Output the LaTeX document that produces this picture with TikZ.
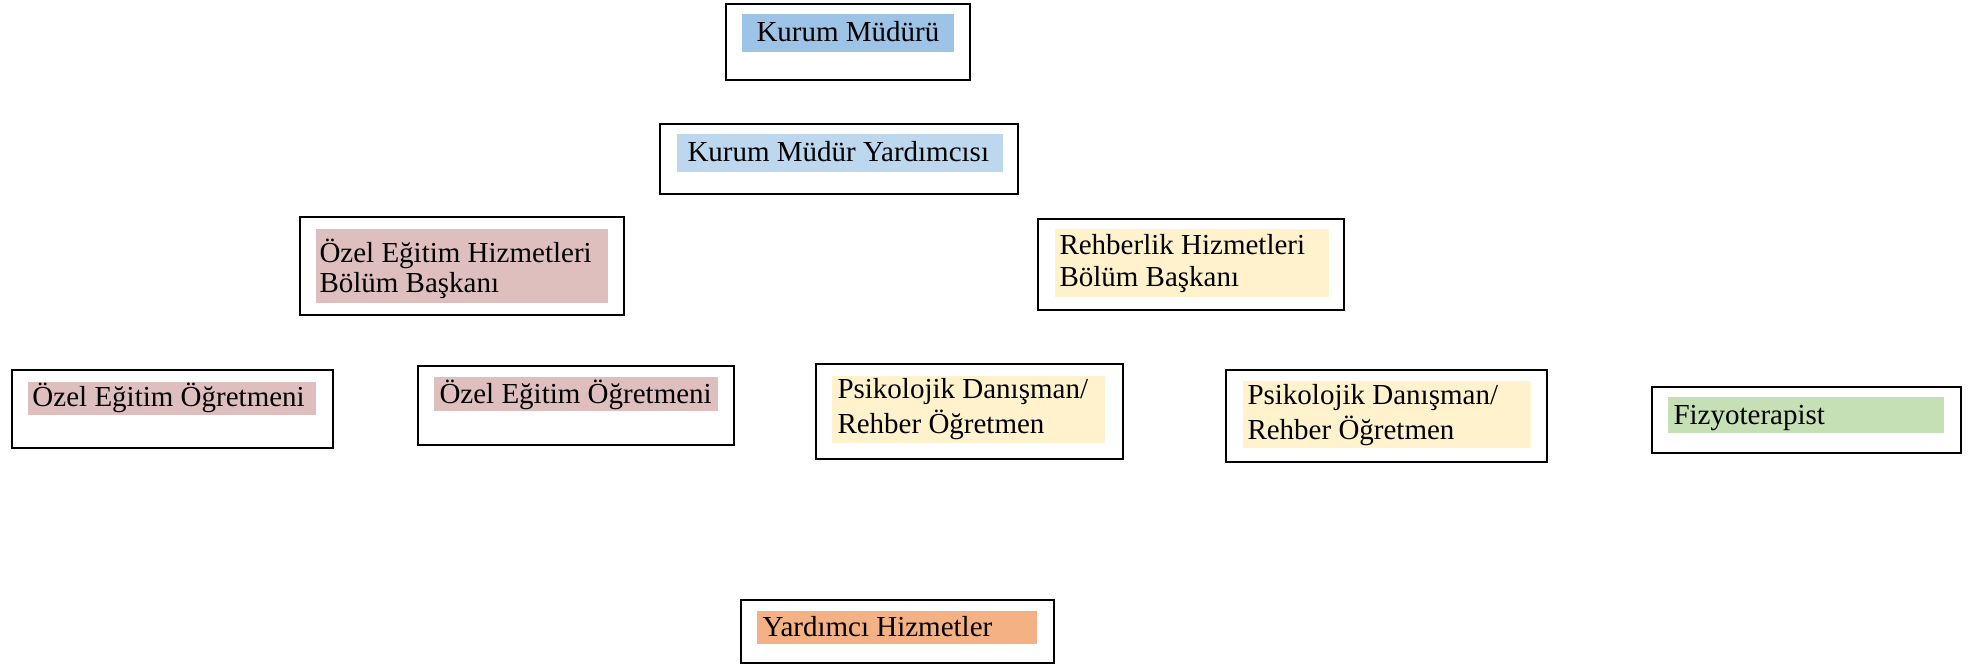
\documentclass[tikz,border=0pt]{standalone}
\usepackage{fontspec}
\setmainfont{Liberation Serif}
\definecolor{hlblue}{HTML}{9DC3E6}
\definecolor{hllightblue}{HTML}{BDD7EE}
\definecolor{hlpink}{HTML}{DFBFBE}
\definecolor{hlyellow}{HTML}{FFF2CC}
\definecolor{hlgreen}{HTML}{C5E0B4}
\definecolor{hlorange}{HTML}{F4B183}
\begin{document}
\begin{tikzpicture}[x=0.4pt,y=-0.4pt,
  box/.style={draw=black, line width=1pt},
  lbl/.style={inner sep=0pt, anchor=base west, font=\fontsize{11.6}{13}\selectfont}]
\useasboundingbox (0,0) rectangle (1971,664);
% Kurum Müdürü
\fill[hlblue] (742,14) rectangle (954,52);
\draw[box] (726,4) rectangle (970,80);
\node[lbl] (km) at (756,42) {Kurum Müdürü};
% Kurum Müdür Yardımcısı
\fill[hllightblue] (677,134) rectangle (1003,172);
\draw[box] (660,124) rectangle (1018,194);
\node[lbl] (kmy) at (687,162) {Kurum Müdür Yardımcısı};
% Özel Eğitim Hizmetleri Bölüm Başkanı
\fill[hlpink] (316,229) rectangle (608,303);
\draw[box] (300,217) rectangle (624,315);
\node[lbl] (oeh1) at (319,263) {Özel Eğitim Hizmetleri};
\node[lbl] (oeh2) at (319,293) {Bölüm Başkanı};
% Rehberlik Hizmetleri Bölüm Başkanı
\fill[hlyellow] (1055,229) rectangle (1329,297);
\draw[box] (1038,219) rectangle (1344,310);
\node[lbl] (rh1) at (1059,255) {Rehberlik Hizmetleri};
\node[lbl] (rh2) at (1059,287) {Bölüm Başkanı};
% Özel Eğitim Öğretmeni 1
\fill[hlpink] (28,382) rectangle (316,415);
\draw[box] (12,370) rectangle (333,448);
\node[lbl] (oeo1) at (32,407) {Özel Eğitim Öğretmeni};
% Özel Eğitim Öğretmeni 2
\fill[hlpink] (434,377) rectangle (718,411);
\draw[box] (418,366) rectangle (734,445);
\node[lbl] (oeo2) at (439,404) {Özel Eğitim Öğretmeni};
% Psikolojik Danışman 1
\fill[hlyellow] (832,376) rectangle (1105,443);
\draw[box] (816,364) rectangle (1123,459);
\node[lbl] (pd1a) at (837,399) {Psikolojik Danışman/};
\node[lbl] (pd1b) at (837,434) {Rehber Öğretmen};
% Psikolojik Danışman 2
\fill[hlyellow] (1243,381) rectangle (1531,448);
\draw[box] (1226,370) rectangle (1547,462);
\node[lbl] (pd2a) at (1247,405) {Psikolojik Danışman/};
\node[lbl] (pd2b) at (1247,440) {Rehber Öğretmen};
% Fizyoterapist
\fill[hlgreen] (1668,397) rectangle (1944,433);
\draw[box] (1652,387) rectangle (1961,453);
\node[lbl] (fz) at (1673,425) {Fizyoterapist};
% Yardımcı Hizmetler
\fill[hlorange] (757,611) rectangle (1037,644);
\draw[box] (741,600) rectangle (1054,663);
\node[lbl] (yh) at (762,637) {Yardımcı Hizmetler};
\end{tikzpicture}
\end{document}
